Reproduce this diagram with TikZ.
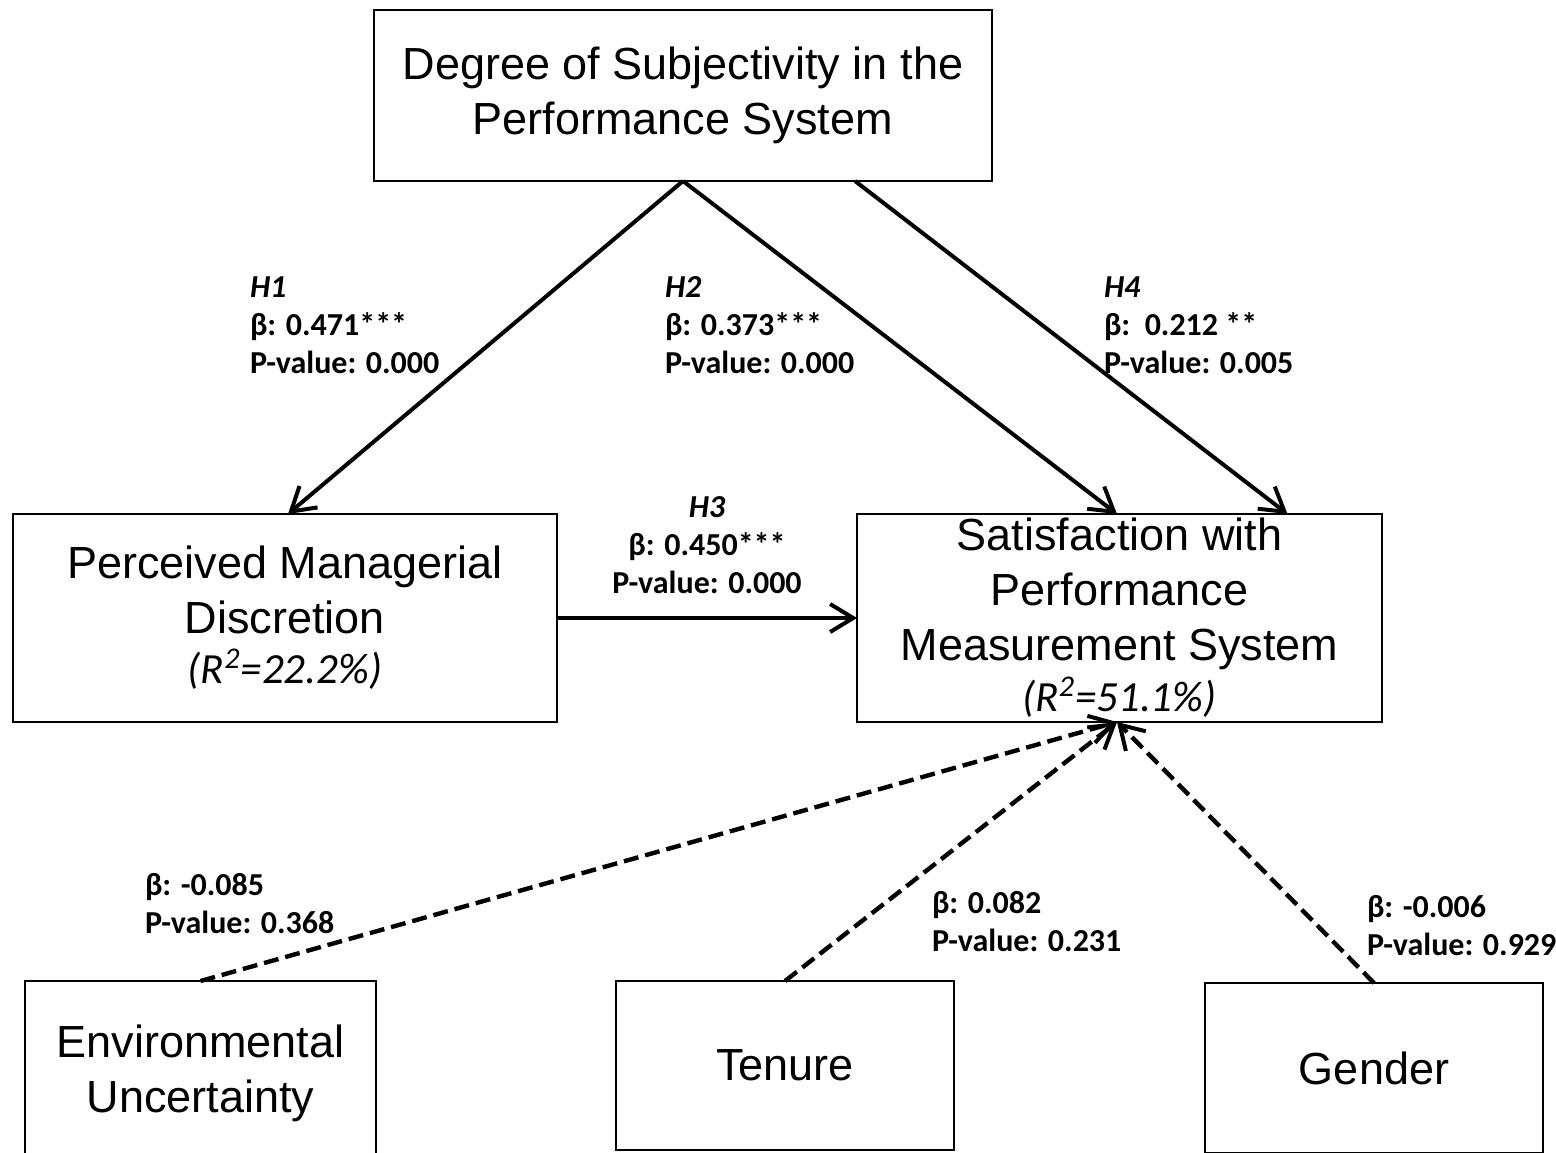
\documentclass[tikz,border=0pt]{standalone}
\usepackage{fontspec}
\setmainfont{Liberation Sans}
\newfontfamily\calfont{Carlito}
\usetikzlibrary{arrows.meta}
\tikzset{
  box/.style={draw, line width=1pt, rectangle, inner sep=0pt, outer sep=0pt, align=center,
    font=\fontsize{22.5}{27.5}\selectfont},
  lbl/.style={inner sep=0pt, outer sep=0pt, align=left, anchor=north west,
    font=\calfont\bfseries\fontsize{16}{19}\selectfont},
  solidarrow/.style={line width=2pt, -{Straight Barb[length=11.5pt,width=14pt,line width=2pt]}},
  dasharrow/.style={line width=2.2pt, dash pattern=on 7.5pt off 3.5pt, -{Straight Barb[length=11.5pt,width=14pt,line width=2pt]}}
}
\newcommand{\rsq}[1]{{\calfont\itshape\fontsize{21.5}{25}\selectfont (R\textsuperscript{2}=#1\%)}}
\begin{document}
\begin{tikzpicture}[x=0.5pt,y=-0.5pt]
\useasboundingbox (0,0) rectangle (1556,1152);
\fill[white] (0,0) rectangle (1556,1152);

\node[box, minimum width=309pt, minimum height=85.5pt] (top) at (683,95.5)
  {\raisebox{-1.5pt}{Degree of Subjectivity in the}\\\raisebox{-1.5pt}{Performance System}};
\node[box, minimum width=272pt, minimum height=104pt] (pmd) at (285,618)
  {Perceived Managerial\\Discretion\\[-2.5pt]\rsq{22.2}};
\node[box, minimum width=262.5pt, minimum height=104pt] (sat) at (1119.5,618)
  {Satisfaction with\\Performance\\Measurement System\\[-2pt]\rsq{51.1}};
\node[box, minimum width=175.5pt, minimum height=92pt] (env) at (200.5,1073)
  {Environmental\\Uncertainty};
\node[box, minimum width=169pt, minimum height=84.5pt] (ten) at (785,1065.5)
  {Tenure};
\node[box, minimum width=169pt, minimum height=85pt] (gen) at (1374,1068)
  {Gender};

% solid arrows
\draw[solidarrow] (top.south) -- ([xshift=1.5pt]pmd.north);
\draw[solidarrow] (top.south) -- ([xshift=-1.25pt]sat.north);
\draw[solidarrow] ([xshift=86pt]top.south) -- ([xshift=84pt]sat.north);
\draw[solidarrow] (pmd.east) -- (sat.west);

% dashed arrows
\draw[dasharrow] (env.north) -- ([xshift=-1.25pt]sat.south);
\draw[dasharrow] (ten.north) -- ([xshift=-1.25pt]sat.south);
\draw[dasharrow] (gen.north) -- ([xshift=-1.25pt]sat.south);

% labels
\node[lbl] (l1) at (250,277) {\itshape H1\\β: 0.471***\\P-value: 0.000};
\node[lbl] (l2) at (665,277) {\itshape H2\\β: 0.373***\\P-value: 0.000};
\node[lbl] (l4) at (1104,277) {\itshape H4\\β:\ \ 0.212 **\\P-value: 0.005};
\node[lbl, align=center, anchor=north] (l3) at (707,497) {\itshape H3\\β: 0.450***\\P-value: 0.000};
\node[lbl] (le) at (145,873) {β: -0.085\\P-value: 0.368};
\node[lbl] (lt) at (932,891) {β: 0.082\\P-value: 0.231};
\node[lbl] (lg) at (1367,895) {β: -0.006\\P-value: 0.929};
\end{tikzpicture}
\end{document}
